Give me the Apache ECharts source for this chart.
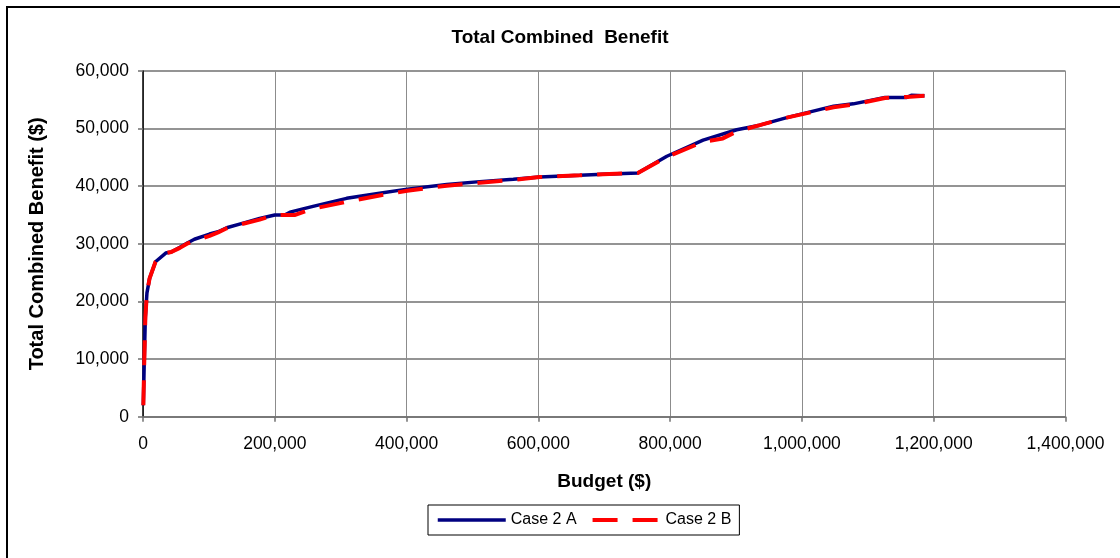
<!DOCTYPE html>
<html>
<head>
<meta charset="utf-8">
<script src="https://cdn.jsdelivr.net/npm/echarts@6/dist/echarts.min.js"></script>
<style>
  html, body { margin: 0; padding: 0; background: #fff; }
  #chart { width: 1120px; height: 558px; }
</style>
</head>
<body>
<div id="chart"></div>
<script>
// Budget ($) and total combined benefit ($) for each case
const budgetA = [500, 2000, 3600, 6000, 10000, 19000, 34500, 43000, 56000, 68000, 78000, 101000, 114000, 127000, 152000, 177000, 200000, 215000, 223000, 258000, 309000, 359000, 401000, 461000, 511000, 562000, 602000, 663000, 698000, 751000, 795000, 850000, 901000, 936000, 977000, 1048000, 1078000, 1126000, 1159000, 1166000, 1186000];
const benefitA = [2000, 10000, 17300, 21500, 24000, 26900, 28400, 28600, 29400, 30200, 30800, 31700, 32100, 32800, 33600, 34400, 35000, 35000, 35500, 36500, 37900, 38800, 39500, 40300, 40800, 41200, 41600, 41900, 42100, 42300, 45200, 48000, 49800, 50600, 51900, 53900, 54300, 55400, 55400, 55800, 55700];

const budgetB = [500, 2000, 3600, 6000, 10000, 19000, 34500, 43000, 56000, 68000, 78000, 101000, 114000, 127000, 152000, 177000, 200000, 230000, 258000, 309000, 359000, 401000, 461000, 511000, 562000, 602000, 663000, 698000, 751000, 795000, 850000, 880000, 901000, 936000, 977000, 1048000, 1078000, 1126000, 1159000, 1186000];
const benefitB = [2000, 10000, 17300, 21500, 24000, 26900, 28400, 28600, 29300, 30100, 30500, 31400, 32000, 32700, 33500, 34200, 35000, 35000, 36100, 37300, 38400, 39200, 40100, 40600, 41100, 41600, 41900, 42100, 42300, 45100, 47700, 48300, 49500, 50600, 51900, 53700, 54200, 55300, 55500, 55700];

const xTicks = { min: 0, max: 1400000, step: 200000 };
const yTicks = { min: 0, max: 60000, step: 10000 };

const pairs = (xs, ys) => xs.map((x, i) => [x, ys[i]]);
const fmt = v => Math.round(v).toLocaleString('en-US');
const FONT = 'Liberation Sans, Arial, sans-serif';

const lineA = { color: '#000080', width: 3.5 };
const lineB = { color: '#ff0000', width: 4, type: [25, 15] };

const chart = echarts.init(document.getElementById('chart'));
chart.setOption({
  backgroundColor: '#fff',
  animation: false,
  textStyle: { fontFamily: FONT, color: '#000' },
  title: {
    text: 'Total Combined  Benefit',
    left: 'center',
    top: 23,
    textStyle: { fontSize: 19, fontWeight: 'bold', color: '#000', fontFamily: FONT }
  },
  graphic: [{
    type: 'rect',
    shape: { x: 7, y: 7, width: 1200, height: 600 },
    style: { fill: 'none', stroke: '#000', lineWidth: 2 },
    silent: true, z: -1
  }],
  grid: { left: 143, top: 71, right: 54.5, bottom: 141.3, containLabel: false },
  legend: {
    top: 505,
    left: 428,
    itemWidth: 68,
    itemHeight: 14,
    itemGap: 14,
    padding: [7, 8, 7, 8],
    borderColor: '#000',
    borderWidth: 1,
    backgroundColor: '#fff',
    itemStyle: { opacity: 0 },
    textStyle: { fontSize: 16, color: '#000', fontFamily: FONT },
    data: [
      { name: 'Case 2 A', lineStyle: lineA },
      { name: 'Case 2 B', lineStyle: lineB }
    ]
  },
  xAxis: {
    type: 'value',
    min: xTicks.min, max: xTicks.max, interval: xTicks.step,
    name: 'Budget ($)',
    nameLocation: 'middle',
    nameGap: 56,
    nameTextStyle: { fontSize: 19, fontWeight: 'bold', color: '#000' },
    axisLine: { show: true, lineStyle: { color: '#707070', width: 1.5 } },
    axisTick: { show: true, length: 5, lineStyle: { color: '#707070', width: 1.5 } },
    axisLabel: { fontSize: 17.5, color: '#000', margin: 18, formatter: fmt },
    splitLine: { show: true, lineStyle: { color: '#8c8c8c', width: 1 } }
  },
  yAxis: {
    type: 'value',
    min: yTicks.min, max: yTicks.max, interval: yTicks.step,
    name: 'Total Combined Benefit ($)',
    nameLocation: 'middle',
    nameGap: 96,
    nameTextStyle: { fontSize: 20, fontWeight: 'bold', color: '#000' },
    axisLine: { show: true, lineStyle: { color: '#000', width: 1.5 } },
    axisTick: { show: true, length: 5, lineStyle: { color: '#707070', width: 1.5 } },
    axisLabel: { fontSize: 17.5, color: '#000', margin: 14, formatter: fmt },
    splitLine: { show: true, lineStyle: { color: '#707070', width: 1.5 } }
  },
  series: [
    {
      name: 'Case 2 A',
      type: 'line',
      data: pairs(budgetA, benefitA),
      showSymbol: false,
      symbol: 'none',
      lineStyle: lineA,
      itemStyle: { color: lineA.color },
      z: 2
    },
    {
      name: 'Case 2 B',
      type: 'line',
      data: pairs(budgetB, benefitB),
      showSymbol: false,
      symbol: 'none',
      lineStyle: lineB,
      itemStyle: { color: lineB.color },
      z: 3
    }
  ]
});
</script>
</body>
</html>
